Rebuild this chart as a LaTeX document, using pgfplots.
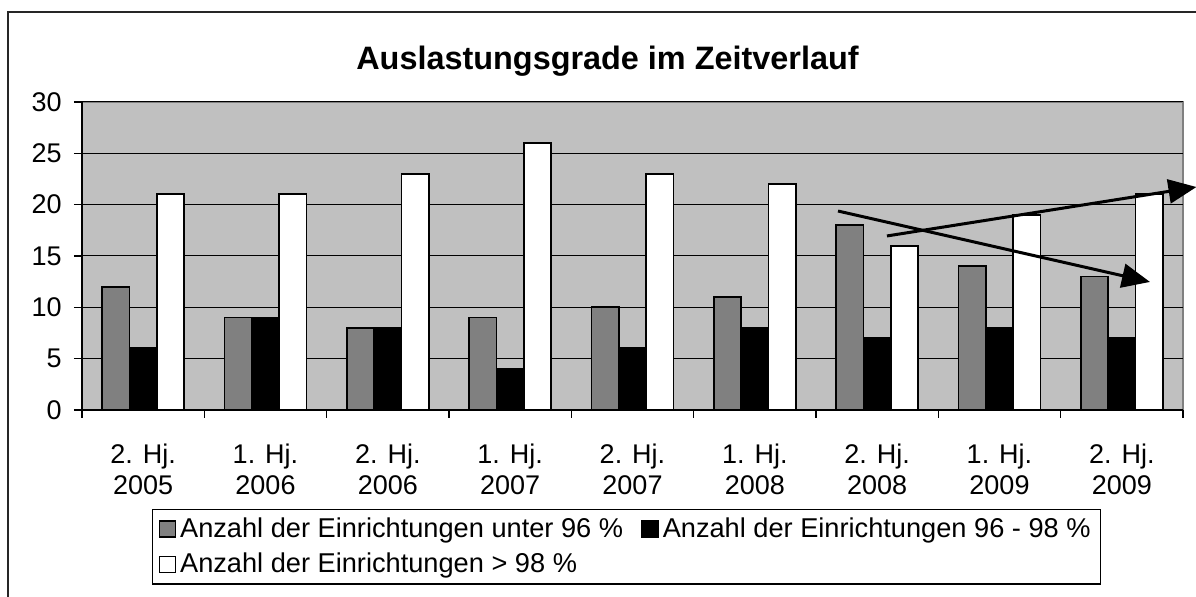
\documentclass[border=0pt]{standalone}
\usepackage{fontspec}
\setmainfont{Liberation Sans}
\usepackage{pgfplots}
\pgfplotsset{compat=1.18}
\usetikzlibrary{arrows.meta}
\definecolor{plotbg}{HTML}{C0C0C0}
\definecolor{bargray}{HTML}{808080}
\definecolor{bordergray}{HTML}{808080}
\begin{document}
\begin{tikzpicture}
\useasboundingbox (0,0) rectangle (598pt,298.5pt);
\draw[black!85, line width=0.6pt] (4pt,-20pt) rectangle (640pt,292.5pt);
\node[anchor=base, font=\fontsize{16.2}{19}\selectfont\bfseries, inner sep=0pt] at (303.75pt,263.5pt) {Auslastungsgrade im Zeitverlauf};
\begin{axis}[
  at={(41pt,93.5pt)}, anchor=south west,
  scale only axis, width=550.5pt, height=154pt,
  xmin=-0.5, xmax=8.5, ymin=0, ymax=30,
  ytick={0,5,...,30},
  xtick={0,...,8},
  xticklabels={{2. Hj.\\2005},{1. Hj.\\2006},{2. Hj.\\2006},{1. Hj.\\2007},{2. Hj.\\2007},{1. Hj.\\2008},{2. Hj.\\2008},{1. Hj.\\2009},{2. Hj.\\2009}},
  minor xtick={-0.5,0.5,...,8.5},
  axis x line*=bottom, axis y line*=left,
  axis line style={black, line width=0.6pt, -},
  axis background/.style={fill=plotbg, draw=bordergray, line width=0.8pt},
  tick align=outside,
  major tick length=4pt, minor tick length=4pt,
  major x tick style={draw=none},
  minor x tick style={black, line width=0.6pt},
  y tick style={black, line width=0.6pt},
  ymajorgrids, major grid style={black, line width=0.5pt},
  /pgf/number format/assume math mode=true,
  ticklabel style={font=\fontsize{13.5}{15.5}\selectfont},
  xticklabel style={align=center, inner sep=0pt, anchor=north, yshift=-13pt},
  yticklabel style={anchor=east, inner sep=0pt, xshift=-6pt},
  clip=false,
  legend columns=2,
  legend cell align=left,
  legend style={at={(0.0635,-0.3214)}, anchor=north west, draw=black, line width=0.6pt,
    font=\fontsize{13.6}{15}\selectfont, inner xsep=3pt, inner ysep=2pt, row sep=2.5pt,
    /tikz/every even column/.append style={column sep=7pt}},
  legend image code/.code={\draw[#1, draw=black, line width=0.8pt] (0pt,-4pt) rectangle (8pt,4pt);},
]
\addplot[ybar, bar width=0.223, bar shift=-0.223, fill=bargray, draw=black, line width=0.9pt] coordinates {(0,12) (1,9) (2,8) (3,9) (4,10) (5,11) (6,18) (7,14) (8,13)};
\addlegendentry{Anzahl der Einrichtungen unter 96 \%}
\addplot[ybar, bar width=0.223, bar shift=0, fill=black, draw=black, line width=0.9pt] coordinates {(0,6) (1,9) (2,8) (3,4) (4,6) (5,8) (6,7) (7,8) (8,7)};
\addlegendentry{Anzahl der Einrichtungen 96 - 98 \%}
\addplot[ybar, bar width=0.223, bar shift=0.223, fill=white, draw=black, line width=0.9pt] coordinates {(0,21) (1,21) (2,23) (3,26) (4,23) (5,22) (6,16) (7,19) (8,21)};
\addlegendentry{Anzahl der Einrichtungen > 98 \%}
\draw[line width=1.5pt, -{Triangle[length=14pt,width=12pt]}] (axis cs:5.68,19.38) -- (axis cs:8.23,12.47);
\draw[line width=1.5pt, -{Triangle[length=14pt,width=12pt]}] (axis cs:6.08,16.95) -- (axis cs:8.61,21.72);
\end{axis}
\end{tikzpicture}
\end{document}
